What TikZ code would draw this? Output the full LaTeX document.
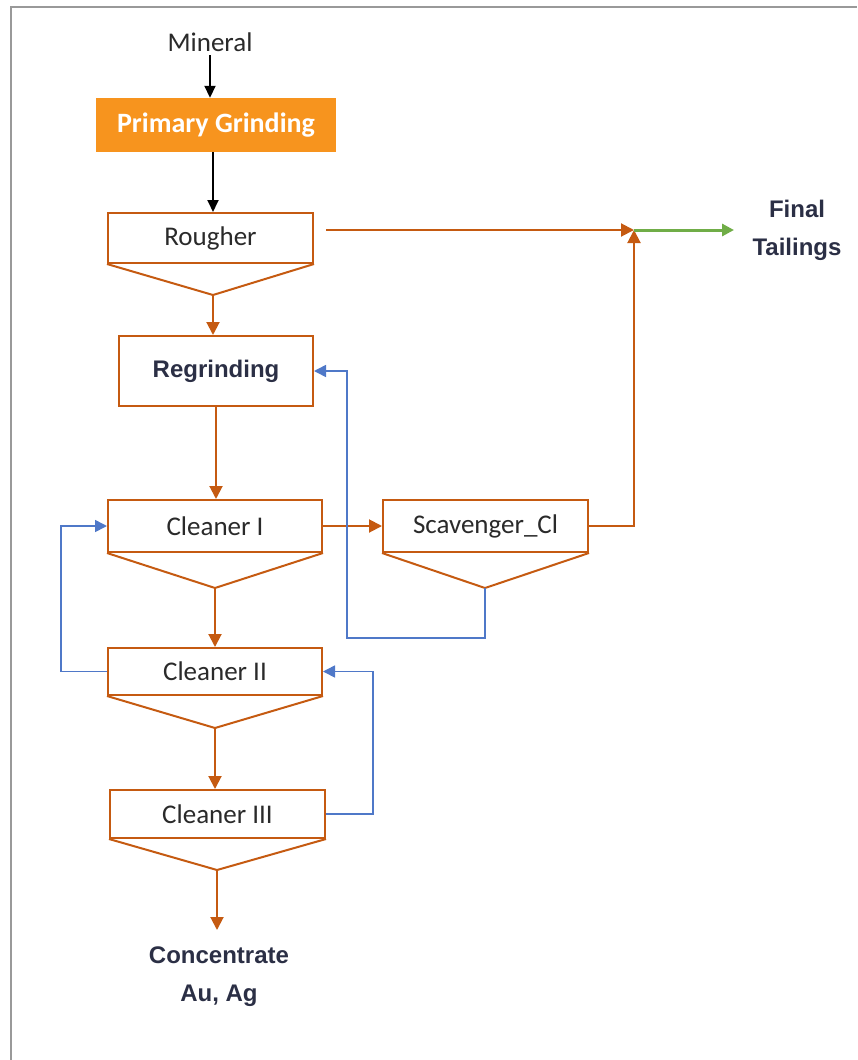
\documentclass[tikz,border=0pt]{standalone}
\usepackage{fontspec}
\setmainfont{Carlito}
\newfontfamily\headfont{Liberation Sans}
\usetikzlibrary{arrows.meta,positioning}

\definecolor{oreline}{HTML}{C55A11}
\definecolor{grindfill}{HTML}{F7941E}
\definecolor{recyc}{HTML}{4F78C8}
\definecolor{tailgreen}{HTML}{70AD47}
\definecolor{txtgray}{HTML}{2A2A2A}
\definecolor{txtnavy}{HTML}{2B2F45}

\newcommand{\cellfont}{\fontsize{27}{32}\selectfont}
\newcommand{\labfont}{\headfont\bfseries\fontsize{24}{38}\selectfont}

\tikzset{
    cell/.style={draw=oreline, line width=2pt, fill=white, minimum width=205pt,
        minimum height=50pt, inner sep=0pt, font=\cellfont, text=txtgray},
    hopper/.style={draw=oreline, line width=2pt, line join=miter},
    flow/.style={draw=oreline, line width=2pt, -{Triangle[length=13pt,width=13pt]}},
    feed/.style={draw=black, line width=1.8pt, -{Triangle[length=12pt,width=11pt]}},
    back/.style={draw=recyc, line width=1.6pt, -{Triangle[length=12pt,width=12pt]}},
}

\begin{document}
\begin{tikzpicture}[x=1pt, y=-1pt]
    \useasboundingbox (0,0) rectangle (857,1060);

    % Marco
    \draw[gray!80, line width=2pt] (11,1060) -- (11,7) -- (857,7);

    % Alimentacion
    \node[font=\cellfont, text=txtgray] (mineral) at (210,42) {Mineral};
    \node[fill=grindfill, minimum width=240pt, minimum height=54pt, inner sep=0pt,
        text=white, font=\bfseries\fontsize{28}{32}\selectfont] (grind) at (216,125) {Primary Grinding};

    % Celdas
    \node[cell] (rough) at (210.5,238) {Rougher};
    \node[cell, minimum width=194pt, minimum height=70pt, font=\labfont, text=txtnavy] (regr) at (216,371) {Regrinding};
    \node[cell, minimum width=214pt, minimum height=52pt] (cl1) at (215,526) {Cleaner I};
    \node[cell, minimum height=52pt] (scav) at (485.5,526) {Scavenger\_Cl};
    \node[cell, minimum width=214pt, minimum height=47pt] (cl2) at (215,671.5) {Cleaner II};
    \node[cell, minimum width=215pt, minimum height=48pt] (cl3) at (217.5,814) {Cleaner III};

    % Productos
    \node[font=\labfont, text=txtnavy, align=center] (conc) at (219,977) {Concentrate\\Au, Ag};
    \node[font=\labfont, text=txtnavy, align=center] (tail) at (797,230) {Final\\Tailings};

    % Tolvas
    \coordinate (rapex) at (213,295);
    \coordinate (c1apex) at (215,588);
    \coordinate (sapex) at (485,588);
    \coordinate (c2apex) at (215,728);
    \coordinate (c3apex) at (217,870);
    \draw[hopper] (rough.south west) -- (rapex) -- (rough.south east);
    \draw[hopper] (cl1.south west) -- (c1apex) -- (cl1.south east);
    \draw[hopper] (scav.south west) -- (sapex) -- (scav.south east);
    \draw[hopper] (cl2.south west) -- (c2apex) -- (cl2.south east);
    \draw[hopper] (cl3.south west) -- (c3apex) -- (cl3.south east);

    % Flujo principal
    \draw[feed] (mineral.south) -- (mineral.south |- grind.north);
    \draw[feed] (213,152) -- (rough.north -| 213,0);
    \draw[flow] (rapex) -- (rapex |- regr.north);
    \draw[flow] (regr.south) -- (regr.south |- cl1.north);
    \draw[flow] (cl1.east) -- (scav.west);
    \draw[flow] (c1apex) -- (c1apex |- cl2.north);
    \draw[flow] (c2apex) -- (c2apex |- cl3.north);
    \draw[flow] (c3apex) -- (217,930);

    % Colas
    \coordinate (junc) at (634,230);
    \draw[flow, shorten <=12pt] (rough.east |- junc) -- (junc);
    \draw[flow] (scav.east) -| (junc);
    \draw[draw=tailgreen, line width=3pt, -{Triangle[length=12pt,width=12pt]}] (junc) -- (734,230);

    % Recirculacion
    \draw[back] (sapex) |- (347,638) |- (regr.east);
    \draw[back] (cl2.west) -- ++(-46,0) |- (cl1.west);
    \draw[back] (cl3.east) -- ++(47,0) |- (cl2.east);
\end{tikzpicture}
\end{document}
